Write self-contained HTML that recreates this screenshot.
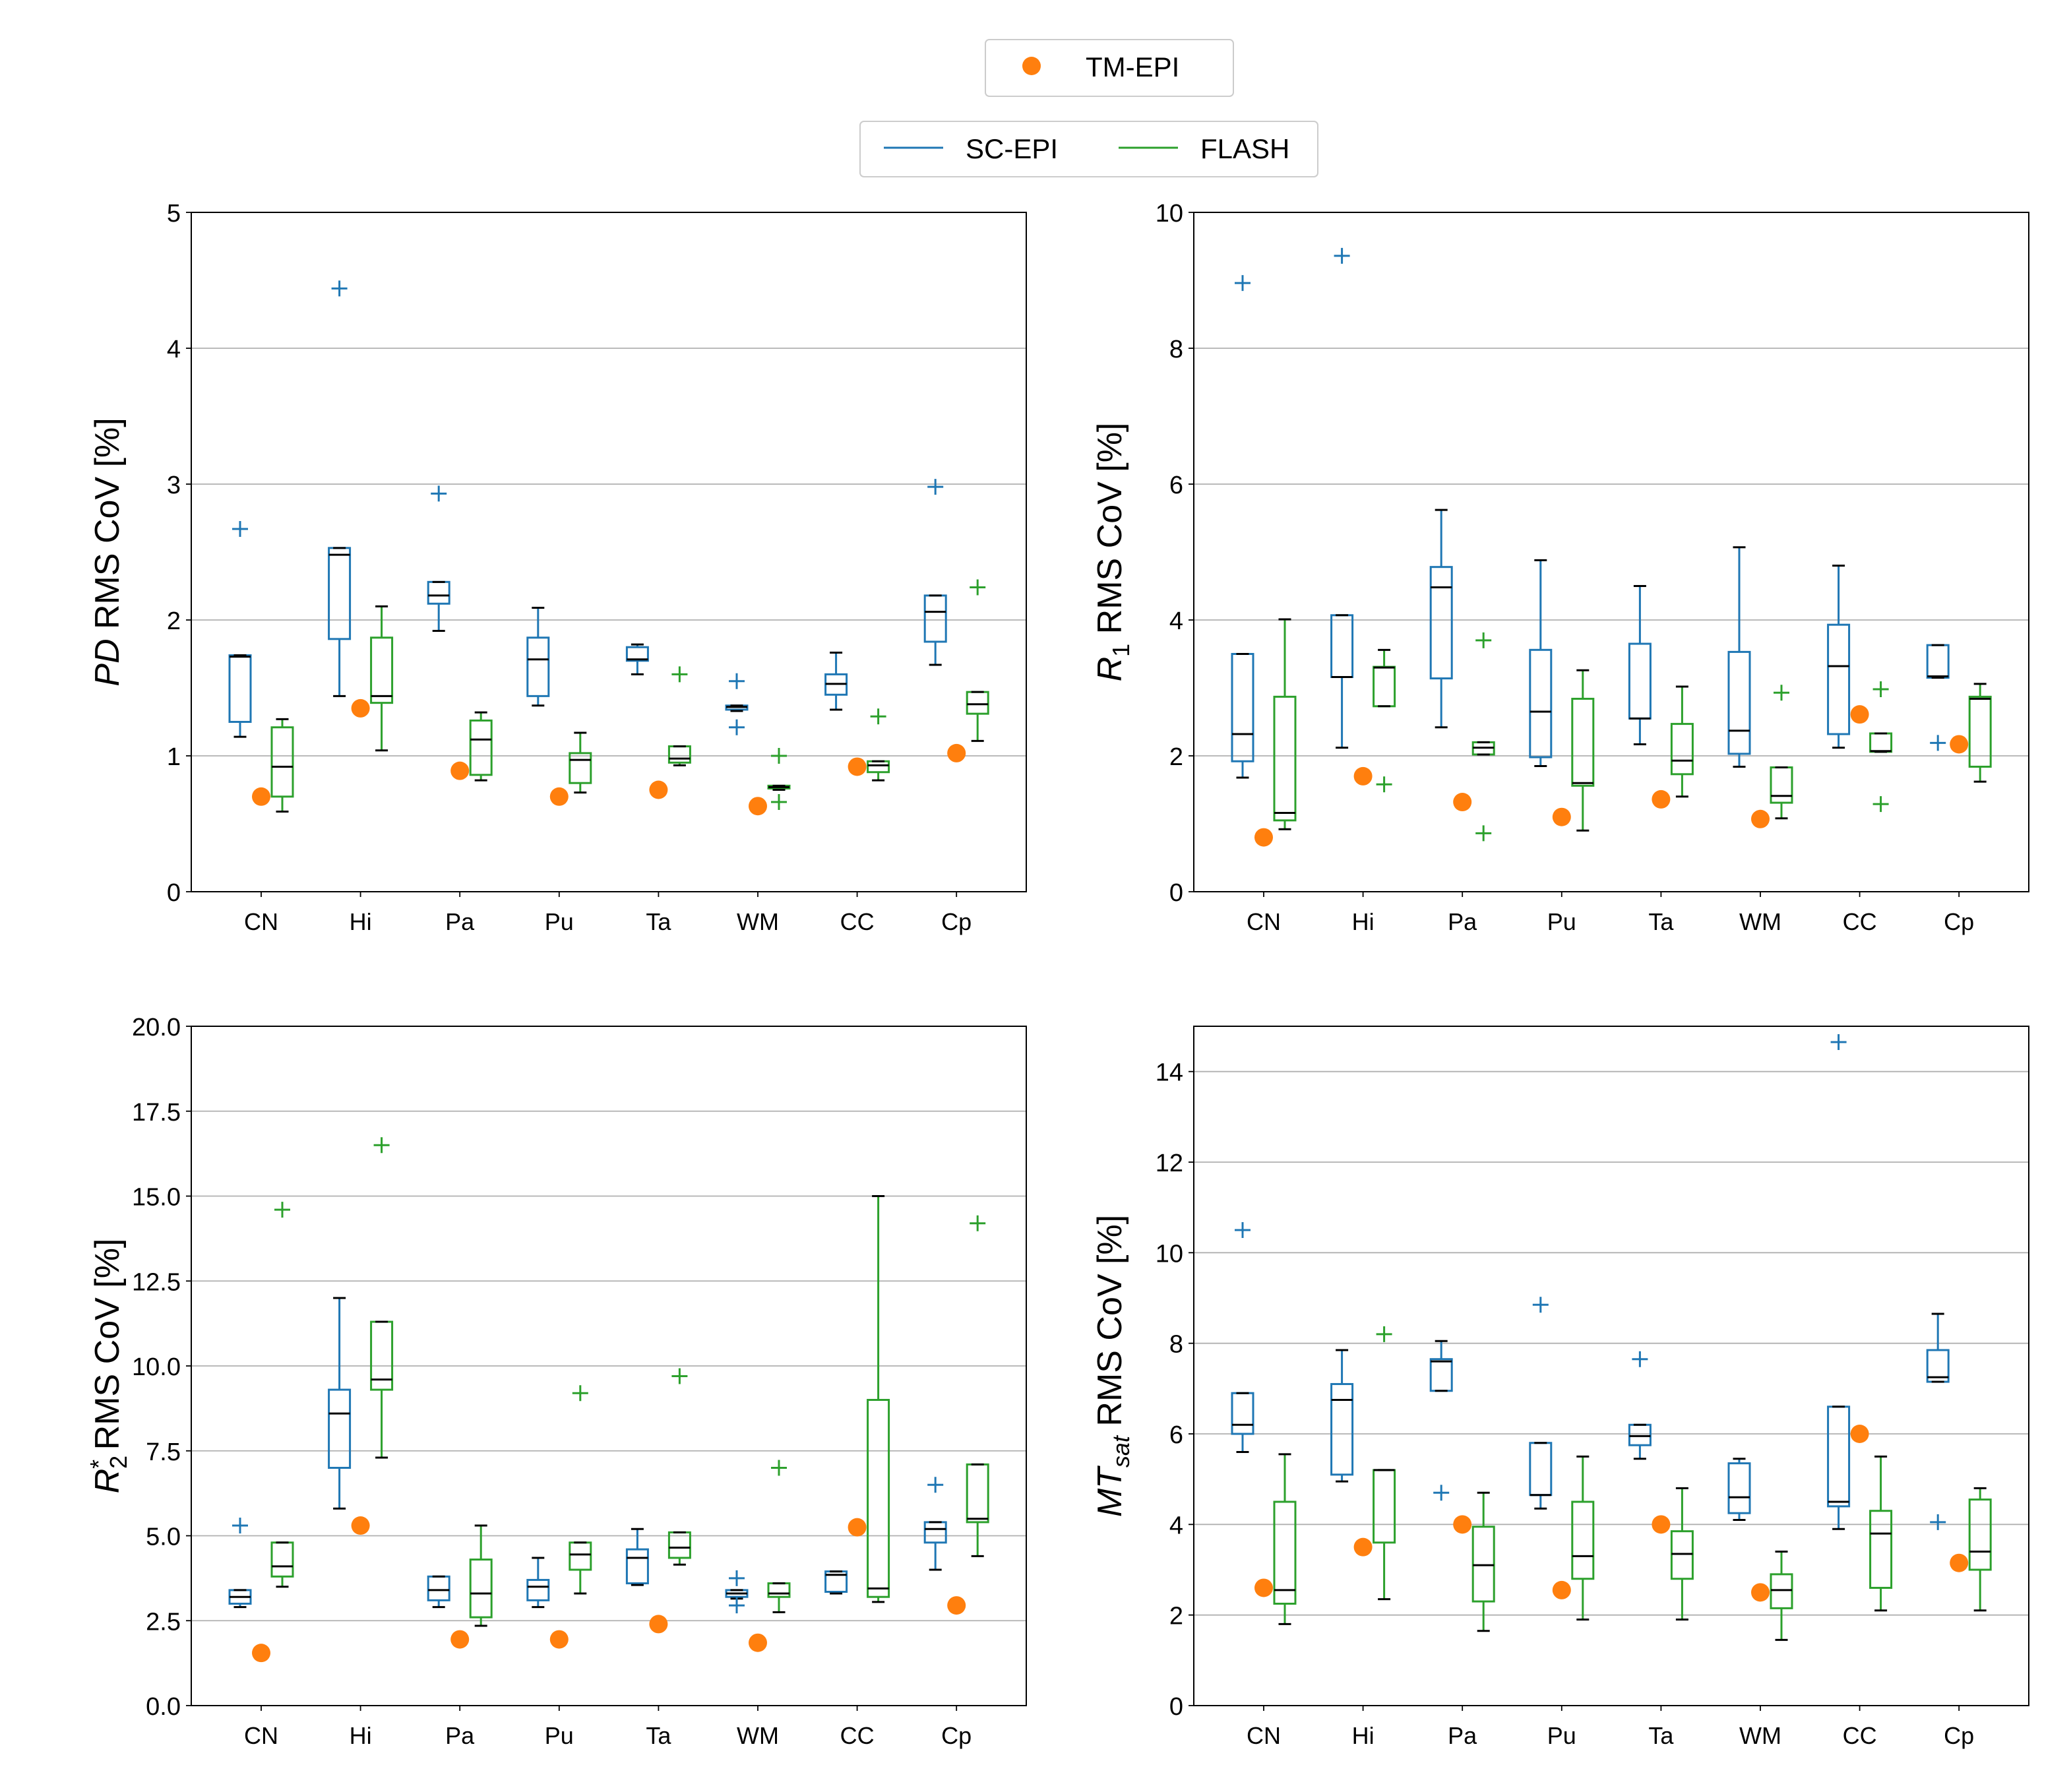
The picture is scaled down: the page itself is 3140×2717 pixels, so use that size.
<!DOCTYPE html>
<html><head><meta charset="utf-8"><style>
html,body{margin:0;padding:0;background:#fff}
svg{display:block}
text{font-family:"Liberation Sans","DejaVu Sans",sans-serif;fill:#000}
</style></head><body>
<svg id="chart" xmlns="http://www.w3.org/2000/svg" width="3140" height="2717" viewBox="0 0 1570 1358.5">
<rect x="0" y="0" width="1570" height="1358.5" fill="#fff"/>
<g>
<rect x="747" y="30" width="188" height="43" rx="3" fill="#fff" stroke="#ccc" stroke-width="1"/>
<circle cx="782" cy="50" r="7" fill="#ff7f0e"/>
<text x="823" y="58" font-size="21">TM-EPI</text>
</g>
<g>
<rect x="652" y="92" width="347" height="42" rx="3" fill="#fff" stroke="#ccc" stroke-width="1"/>
<line x1="670" y1="112" x2="715" y2="112" stroke="#1f77b4" stroke-width="1.5"/>
<text x="732" y="120" font-size="21">SC-EPI</text>
<line x1="848" y1="112" x2="893" y2="112" stroke="#2ca02c" stroke-width="1.5"/>
<text x="910" y="120" font-size="21">FLASH</text>
</g>
</svg>
<script>
const categories = ["CN","Hi","Pa","Pu","Ta","WM","CC","Cp"];
// each box: [whiskerLow, q1, median, q3, whiskerHigh]
const pdBlue = [[1.14,1.25,1.73,1.74,1.74],[1.44,1.86,2.48,2.53,2.53],[1.92,2.12,2.18,2.28,2.28],[1.37,1.44,1.71,1.87,2.09],[1.60,1.70,1.71,1.80,1.82],[1.33,1.34,1.36,1.37,1.37],[1.34,1.45,1.53,1.60,1.76],[1.67,1.84,2.06,2.18,2.18]];
const pdGreen = [[0.59,0.70,0.92,1.21,1.27],[1.04,1.39,1.44,1.87,2.10],[0.82,0.86,1.12,1.26,1.32],[0.73,0.80,0.97,1.02,1.17],[0.93,0.95,0.98,1.07,1.07],[0.75,0.76,0.77,0.78,0.78],[0.82,0.88,0.93,0.96,0.96],[1.11,1.31,1.38,1.47,1.47]];
const pdBlueOut = [[2.67],[4.44],[2.93],[],[],[1.55,1.21],[],[2.98]];
const pdGreenOut = [[],[],[],[],[1.60],[1.00,0.66],[1.29],[2.24]];
const pdTm = [0.70,1.35,0.89,0.70,0.75,0.63,0.92,1.02];
const pdTicks = ["0","1","2","3","4","5"];

const r1Blue = [[1.68,1.92,2.32,3.50,3.50],[2.12,3.16,3.16,4.07,4.07],[2.42,3.14,4.48,4.78,5.62],[1.85,1.98,2.65,3.56,4.88],[2.17,2.55,2.55,3.65,4.50],[1.84,2.03,2.37,3.53,5.07],[2.12,2.32,3.32,3.93,4.80],[3.15,3.15,3.17,3.63,3.63]];
const r1Green = [[0.92,1.05,1.16,2.87,4.01],[2.73,2.73,3.30,3.31,3.56],[2.02,2.02,2.12,2.20,2.20],[0.90,1.56,1.60,2.84,3.26],[1.40,1.73,1.93,2.47,3.02],[1.08,1.31,1.41,1.83,1.83],[2.06,2.06,2.07,2.33,2.33],[1.62,1.84,2.84,2.87,3.06]];
const r1BlueOut = [[8.96],[9.36],[],[],[],[],[],[2.19]];
const r1GreenOut = [[],[1.58],[3.70,0.86],[],[],[2.93],[2.98,1.29],[]];
const r1Tm = [0.80,1.70,1.32,1.10,1.36,1.07,2.61,2.17];
const r1Ticks = ["0","2","4","6","8","10"];

const r2Blue = [[2.9,3.0,3.2,3.4,3.4],[5.8,7.0,8.6,9.3,12.0],[2.9,3.1,3.4,3.8,3.8],[2.9,3.1,3.5,3.7,4.35],[3.55,3.6,4.35,4.6,5.2],[3.15,3.2,3.3,3.4,3.4],[3.3,3.35,3.85,3.95,3.95],[4.0,4.8,5.2,5.4,5.4]];
const r2Green = [[3.5,3.8,4.1,4.8,4.8],[7.3,9.3,9.6,11.3,11.3],[2.35,2.6,3.3,4.3,5.3],[3.3,4.0,4.45,4.8,4.8],[4.15,4.35,4.65,5.1,5.1],[2.75,3.2,3.3,3.6,3.6],[3.05,3.2,3.45,9.0,15.0],[4.4,5.4,5.5,7.1,7.1]];
const r2BlueOut = [[5.3],[],[],[],[],[3.75,2.95],[],[6.5]];
const r2GreenOut = [[14.6],[16.5],[],[9.2],[9.7],[7.0],[],[14.2]];
const r2Tm = [1.55,5.3,1.95,1.95,2.4,1.85,5.25,2.95];
const r2Ticks = ["0.0","2.5","5.0","7.5","10.0","12.5","15.0","17.5","20.0"];

const mtBlue = [[5.6,6.0,6.2,6.9,6.9],[4.95,5.1,6.75,7.1,7.85],[6.95,6.95,7.6,7.65,8.05],[4.35,4.65,4.65,5.8,5.8],[5.45,5.75,5.95,6.2,6.2],[4.1,4.25,4.6,5.35,5.45],[3.9,4.4,4.5,6.6,6.6],[7.15,7.15,7.25,7.85,8.65]];
const mtGreen = [[1.8,2.25,2.55,4.5,5.55],[2.35,3.6,5.2,5.2,5.2],[1.65,2.3,3.1,3.95,4.7],[1.9,2.8,3.3,4.5,5.5],[1.9,2.8,3.35,3.85,4.8],[1.45,2.15,2.55,2.9,3.4],[2.1,2.6,3.8,4.3,5.5],[2.1,3.0,3.4,4.55,4.8]];
const mtBlueOut = [[10.5],[],[4.7],[8.85],[7.65],[],[14.65],[4.05]];
const mtGreenOut = [[],[8.2],[],[],[],[],[],[]];
const mtTm = [2.6,3.5,4.0,2.55,4.0,2.5,6.0,3.15];
const mtTicks = ["0","2","4","6","8","10","12","14"];

const svg = document.getElementById('chart');
const NS = "http://www.w3.org/2000/svg";
function mk(tag, attrs, parent){
  const e = document.createElementNS(NS, tag);
  for (const k in attrs) e.setAttribute(k, attrs[k]);
  (parent||svg).appendChild(e);
  return e;
}

function panel(cfg){
  const g = mk('g', {});
  
  
  const L = cfg.x0, R = cfg.x0 + 633, T = cfg.y0, B = cfg.y0 + 515;
  const ymax = cfg.ymax;
  const y = v => B - (v / ymax) * (B - T);
  const x = i => L + 53 + i * 75.3;
  const ticks = cfg.ticks;
  const grid = mk('g', {}, g);
  
  
  ticks.forEach(t => {
    const v = parseFloat(t);
    const yy = y(v);
    if (v > 0 && v < ymax) mk('line', {x1:L, x2:R, y1:yy, y2:yy, stroke:'#b0b0b0', 'stroke-width':0.9}, grid);
    mk('line', {x1:L-4, x2:L, y1:yy, y2:yy, stroke:'#000', 'stroke-width':0.9}, g);
    const lab = mk('text', {x:L-8, y:yy+7, 'font-size':19, 'text-anchor':'end'}, g);
    lab.textContent = t;
    
    
  });
  categories.forEach((c, i) => {
    mk('line', {x1:x(i), x2:x(i), y1:B, y2:B+4, stroke:'#000', 'stroke-width':0.9}, g);
    const lab = mk('text', {x:x(i), y:B+29, 'font-size':18, 'text-anchor':'middle'}, g);
    lab.textContent = c;
    
    
  });
  function boxes(data, outs, color, off, nm){
    data.forEach((d, i) => {
      const cx = x(i) + off;
      const bg = mk('g', {}, g);
      
      
      mk('line', {x1:cx, x2:cx, y1:y(d[0]), y2:y(d[1]), stroke:color, 'stroke-width':1.5}, bg);
      mk('line', {x1:cx, x2:cx, y1:y(d[3]), y2:y(d[4]), stroke:color, 'stroke-width':1.5}, bg);
      mk('rect', {x:cx-8, y:y(d[3]), width:16, height:Math.max(0.1, y(d[1])-y(d[3])), fill:'none', stroke:color, 'stroke-width':1.5}, bg);
      mk('line', {x1:cx-4.75, x2:cx+4.75, y1:y(d[0]), y2:y(d[0]), stroke:'#000', 'stroke-width':1.5}, bg);
      mk('line', {x1:cx-4.75, x2:cx+4.75, y1:y(d[4]), y2:y(d[4]), stroke:'#000', 'stroke-width':1.5}, bg);
      mk('line', {x1:cx-8, x2:cx+8, y1:y(d[2]), y2:y(d[2]), stroke:'#000', 'stroke-width':1.5}, bg);
      outs[i].forEach(v => {
        const p = mk('path', {d:`M${cx-6},${y(v)}H${cx+6}M${cx},${y(v)-6}V${y(v)+6}`, stroke:color, 'stroke-width':1.5, fill:'none'}, bg);
        
        
      });
    });
  }
  boxes(cfg.blue, cfg.blueOut, '#1f77b4', -16, 'sc-epi');
  boxes(cfg.green, cfg.greenOut, '#2ca02c', 16, 'flash');
  cfg.tm.forEach((v, i) => {
    const c = mk('circle', {cx:x(i), cy:y(v), r:7, fill:'#ff7f0e'}, g);
    
    
  });
  const fr = mk('rect', {x:L, y:T, width:R-L, height:B-T, fill:'none', stroke:'#000', 'stroke-width':1}, g);
  
  
  const cy = (T+B)/2, lx = L - 55;
  const t = mk('text', {x:lx, y:cy, 'font-size':26, 'text-anchor':'middle', transform:`rotate(-90 ${lx} ${cy})`}, g);
  t.innerHTML = cfg.label;
  
  
}

panel({name:'pd-panel', x0:145, y0:161, ymax:5, ticks:pdTicks, blue:pdBlue, green:pdGreen, blueOut:pdBlueOut, greenOut:pdGreenOut, tm:pdTm,
  label:'<tspan font-style="italic">PD</tspan> RMS CoV [%]'});
panel({name:'r1-panel', x0:905, y0:161, ymax:10, ticks:r1Ticks, blue:r1Blue, green:r1Green, blueOut:r1BlueOut, greenOut:r1GreenOut, tm:r1Tm,
  label:'<tspan font-style="italic">R</tspan><tspan font-size="18" dy="6">1</tspan><tspan dy="-6"> RMS CoV [%]</tspan>'});
panel({name:'r2star-panel', x0:145, y0:778, ymax:20, ticks:r2Ticks, blue:r2Blue, green:r2Green, blueOut:r2BlueOut, greenOut:r2GreenOut, tm:r2Tm,
  label:'<tspan font-style="italic">R</tspan><tspan font-size="18" dy="6">2</tspan><tspan font-size="18" dy="-15" dx="-10">*</tspan><tspan dy="9">  RMS CoV [%]</tspan>'});
panel({name:'mtsat-panel', x0:905, y0:778, ymax:15, ticks:mtTicks, blue:mtBlue, green:mtGreen, blueOut:mtBlueOut, greenOut:mtGreenOut, tm:mtTm,
  label:'<tspan font-style="italic">MT</tspan><tspan font-size="18" font-style="italic" dy="6">sat</tspan><tspan dy="-6"> RMS CoV [%]</tspan>'});
</script>
</body></html>
